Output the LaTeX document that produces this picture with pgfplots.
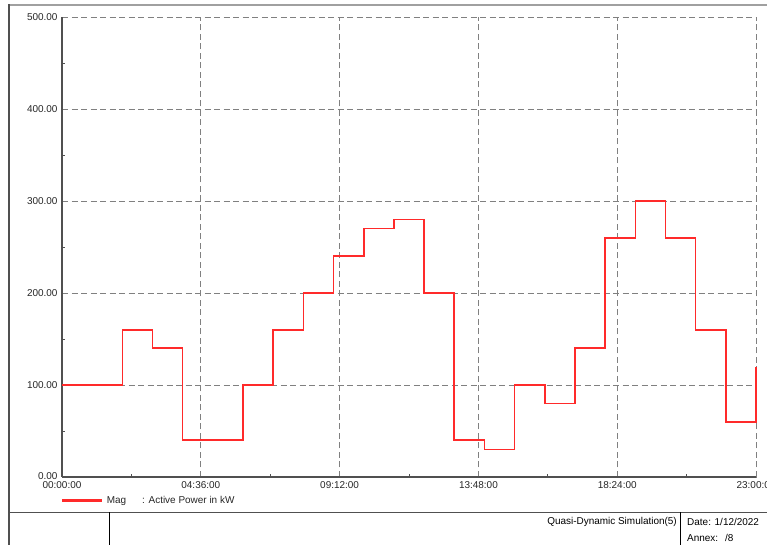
\documentclass[border=0pt]{standalone}
\usepackage{fontspec}
\setmainfont{Liberation Sans}
\usepackage{pgfplots}
\pgfplotsset{compat=1.18}
\definecolor{gridgray}{HTML}{808080}
\definecolor{axisgray}{HTML}{505050}
\definecolor{framegray}{HTML}{A0A0A0}
\definecolor{tracered}{HTML}{FF2A2A}

\begin{document}
\begin{tikzpicture}[x=1bp,y=1bp,font=\fontsize{10}{12}\selectfont]
\useasboundingbox (0,0) rectangle (767,545);
% page frame and title block
\draw[framegray, line width=2bp] (8,540) -- (767,540);
\draw[axisgray, line width=2bp] (9,0) -- (9,541);
\draw[axisgray, line width=1.5bp] (9,32.5) -- (767,32.5);
\draw[black, line width=1bp] (109,0) -- (109,32.5);
\draw[black, line width=1bp] (680,0) -- (680,32.5);
\node[anchor=east, inner sep=0] at (677,23.5) {Quasi-Dynamic Simulation(5)};
\node[anchor=west, inner sep=0] at (687,23.5) {Date: 1/12/2022};
\node[anchor=west, inner sep=0] at (687,7) {Annex:\hspace{0.7em}/8};

\begin{axis}[
  at={(62bp,68bp)}, anchor=south west,
  scale only axis, width=694bp, height=460bp,
  xmin=0, xmax=23, ymin=0, ymax=500,
  axis x line=bottom, axis y line=left,
  axis line style={-, axisgray, line width=2bp},
  xtick={0,4.6,9.2,13.8,18.4,23},
  xticklabels={00:00:00,04:36:00,09:12:00,13:48:00,18:24:00,23:00:00},
  minor xtick={2.3,6.9,11.5,16.1,20.7},
  ytick={0,100,200,300,400,500},
  yticklabels={\raisebox{2.5bp}{0.00},100.00,200.00,300.00,400.00,500.00},
  minor ytick={50,150,250,350,450},
  tick align=inside,
  major tick length=0bp, minor tick length=3bp,
  minor tick style={axisgray, line width=0.8bp},
  ticklabel style={font=\fontsize{10}{12}\selectfont, text=black!85},
  xticklabel style={yshift=-1.5bp},
  yticklabel style={xshift=-1bp},
  grid=major,
  major grid style={gridgray, line width=0.9bp, dash pattern=on 6bp off 3.5bp},
  clip=false,
  legend style={at={(0,0)}, anchor=north west, yshift=-17bp,
    draw=none, fill=none, inner sep=0pt,
    font=\fontsize{10}{12}\selectfont, text=black!85},
  legend image code/.code={\fill[tracered] (0bp,-1bp) rectangle (38bp,1bp);},
]
\addplot[const plot, tracered, line width=1.6bp] coordinates {
  (0,100) (2,160) (3,140) (4,40) (6,100) (7,160) (8,200) (9,240)
  (10,270) (11,280) (12,200) (13,40) (14,30) (15,100) (16,80)
  (17,140) (18,260) (19,300) (20,260) (21,160) (22,60) (23,120)
};
\addlegendentry{\hspace{3bp}Mag\hspace{16bp}: Active Power in kW}
\end{axis}
\end{tikzpicture}
\end{document}
